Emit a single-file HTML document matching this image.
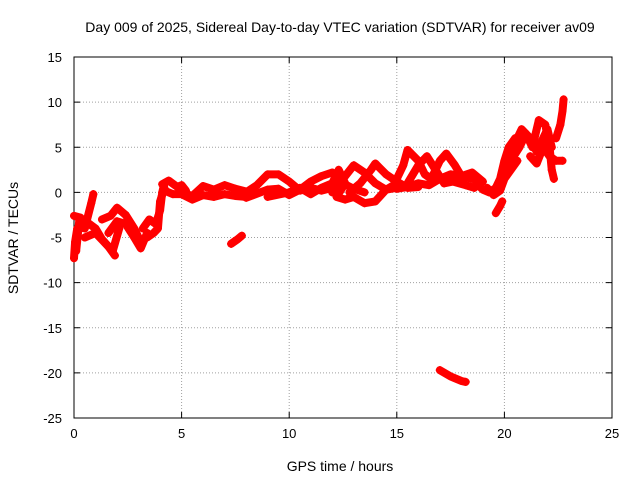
<!DOCTYPE html>
<html><head><meta charset="utf-8"><style>
html,body{margin:0;padding:0;background:#fff;}
svg{display:block;font-family:"Liberation Sans",sans-serif;}
</style></head><body>
<svg id="chart" width="640" height="480">
<text x="340" y="32" text-anchor="middle" font-size="14">Day 009 of 2025, Sidereal Day-to-day VTEC variation (SDTVAR) for receiver av09</text>
<text x="340" y="471" text-anchor="middle" font-size="14">GPS time / hours</text>
<text transform="translate(18,238) rotate(-90)" text-anchor="middle" font-size="14">SDTVAR / TECUs</text>
</svg>
<script>
const xTicks=[0,5,10,15,20,25];
const yTicks=[15,10,5,0,-5,-10,-15,-20,-25];
const series=[
 [[0,-7.3],[0.05,-5.5],[0.15,-4],[0.1,-6.5],[0.25,-3]],
 [[0,-2.6],[0.3,-2.8],[0.5,-4],[0.8,-1.2],[0.9,-0.2]],
 [[0.3,-4],[0.6,-3.3],[1,-4],[1.3,-5.2],[1.6,-6],[1.9,-7]],
 [[0.5,-5],[1,-4.5],[1.4,-5.5],[1.8,-6.5],[2.1,-4]],
 [[1.3,-3],[1.7,-2.6],[2,-1.7],[2.4,-2.5],[2.8,-4],[3.1,-5.5]],
 [[1.6,-4.5],[2,-3.2],[2.4,-3.5],[2.8,-5],[3.1,-6.2],[3.4,-4.5]],
 [[3.2,-4],[3.5,-3],[3.8,-3.5],[4,-2],[4.1,0],[4.2,1]],
 [[3.4,-5],[3.7,-4.5],[3.9,-4],[4,-1],[4.2,0.5]],
 [[4.1,0.9],[4.4,1.3],[4.8,0.6],[5,0.8],[5.2,0.2]],
 [[4.2,0.2],[4.6,-0.2],[5,-0.2],[5.5,-0.8],[6,-0.3],[6.5,-0.5],[7,-0.2],[7.5,-0.4],[8,-0.5]],
 [[5,0],[5.5,-0.4],[6,0.7],[6.5,0.3],[7,0.8],[7.5,0.4],[8,0.1]],
 [[7.3,-5.7],[7.6,-5.2],[7.8,-4.8]],
 [[8,0],[8.5,0.8],[9,2],[9.5,2],[10,1.2],[10.5,0.2],[11,0.5],[11.5,0.2],[12,0.5]],
 [[8,-0.6],[9,0.3],[9.5,0.4],[10,-0.3],[10.5,0.3],[11,1.2],[11.5,1.8],[12,2.2],[12.5,1],[13,0.4],[13.5,0]],
 [[9,-0.5],[10,0],[10.5,0.5],[11,-0.2],[11.5,0.5],[12,1],[12.3,2.5],[12.6,1],[12.2,-0.5],[12.6,-0.8],[13,-0.5],[13.5,-1.2],[14,-1],[14.5,0.3],[15,0.5]],
 [[12,0],[12.5,1.5],[13,3],[13.5,2.2],[14,1],[14.5,0.3],[15,1]],
 [[12.8,0],[13.3,1],[13.8,2.5],[14,3.2],[14.5,2],[15,1.2],[15.5,0.5],[16,0.6]],
 [[15,1.5],[15.3,3],[15.5,4.7],[16,3.5],[16.3,2],[16.6,1.5],[17,3.5],[17.3,4.3],[17.7,3],[18,1.8],[18.5,1.5]],
 [[15,0.4],[15.5,0.6],[16,1],[16.5,0.8],[17,1.5],[17.5,2],[18,1.8],[18.5,2.2],[19,1.2]],
 [[15.5,1],[16,3],[16.4,4],[16.8,2.5],[17.2,1],[17.6,1.2],[18.2,0.8],[18.6,0.5]],
 [[19.6,-2.3],[19.8,-1.5],[19.9,-1]],
 [[17,-19.7],[17.5,-20.4],[18,-20.9],[18.2,-21]],
 [[18.7,1],[19,0.3],[19.3,0],[19.6,0.5],[19.8,1.5],[20,3.5],[20.2,5],[20.5,6]],
 [[19.2,0.5],[19.5,-0.3],[19.8,0.2],[20,1.5],[20.3,2.5],[20.6,3.5]],
 [[20.1,2],[20.4,5],[20.8,7],[21.2,6],[21.5,4.5],[21.8,6],[22,7],[22.2,5]],
 [[20.3,3.5],[20.7,5],[21,6.5],[21.3,5],[21.6,8],[21.9,7.5],[22.1,5],[22.2,2.5],[22.3,1.5]],
 [[21.2,4],[21.5,3.2],[21.8,5],[22.1,4],[22.4,3.5],[22.7,3.5]],
 [[22.4,6],[22.6,7.5],[22.7,9],[22.75,10.3]]
];
const svg=document.getElementById('chart');
const NS='http://www.w3.org/2000/svg';
const L=74,R=612,T=57,B=418;
const xs=v=>L+(v-0)/25*(R-L);
const ys=v=>T+(15-v)/40*(B-T);
function mk(t,a){const e=document.createElementNS(NS,t);for(const k in a)e.setAttribute(k,a[k]);svg.appendChild(e);return e;}
xTicks.forEach(t=>{
 const x=xs(t);
 if(t>0&&t<25){const g=mk('line',{x1:x,x2:x,y1:T,y2:B,stroke:'#a0a0a0','stroke-dasharray':'1,2'});
 
 }
 const tx=mk('text',{x:x,y:B+20,'text-anchor':'middle','font-size':13});tx.textContent=t;
 
 
 mk('line',{x1:x,x2:x,y1:B,y2:B-6,stroke:'#000'});mk('line',{x1:x,x2:x,y1:T,y2:T+6,stroke:'#000'});
});
yTicks.forEach(t=>{
 const y=ys(t);
 if(t<15&&t>-25){const g=mk('line',{x1:L,x2:R,y1:y,y2:y,stroke:'#a0a0a0','stroke-dasharray':'1,2'});
 
 }
 const tx=mk('text',{x:L-12,y:y+5,'text-anchor':'end','font-size':13});tx.textContent=t;
 
 
 mk('line',{x1:L,x2:L+6,y1:y,y2:y,stroke:'#000'});mk('line',{x1:R,x2:R-6,y1:y,y2:y,stroke:'#000'});
});
const fr=mk('rect',{x:L,y:T,width:R-L,height:B-T,fill:'none',stroke:'#000'});


series.forEach((s,i)=>{
 const p=mk('polyline',{points:s.map(d=>xs(d[0])+','+ys(d[1])).join(' '),fill:'none',stroke:'#ff0000','stroke-width':8,'stroke-linejoin':'round','stroke-linecap':'round'});
 
 
 s.forEach(d=>{
  const x=xs(d[0]),y=ys(d[1]);
  const m=mk('path',{d:`M${x-4},${y}H${x+4}M${x},${y-4}V${y+4}`,stroke:'#ff0000','stroke-width':1.5});
  
  
 });
});
</script>
</body></html>
